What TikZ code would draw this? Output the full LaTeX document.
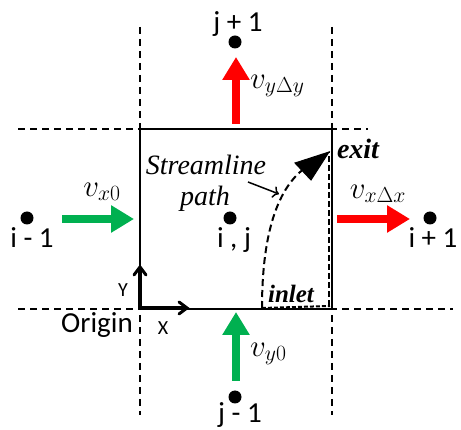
\RequirePackage{fix-cm}
\documentclass[tikz,border=0pt]{standalone}
\usepackage{fontspec}
\setmainfont{Carlito}
\newfontfamily\serifit{Liberation Serif}
\usetikzlibrary{arrows.meta}
\definecolor{offgreen}{RGB}{0,176,80}
\definecolor{offred}{RGB}{255,0,0}
\tikzset{
  gridline/.style={line width=1.2pt, dash pattern=on 7pt off 5pt},
  cellbox/.style={line width=1.4pt},
  dot/.style={circle, fill=black, inner sep=0pt, minimum size=13pt},
  lbl/.style={inner sep=0pt, anchor=base, font=\fontsize{29}{33}\selectfont},
  smalllbl/.style={inner sep=0pt, anchor=base, font=\fontsize{20}{22}\selectfont},
  mathlbl/.style={inner sep=0pt, font=\fontsize{31}{34}\selectfont},
  itlbl/.style={inner sep=0pt, font=\serifit\itshape\fontsize{28}{30}\selectfont},
  bilbl/.style={inner sep=0pt, font=\serifit\bfseries\itshape\fontsize{28}{30}\selectfont},
  inletlbl/.style={inner sep=0pt, font=\serifit\bfseries\itshape\fontsize{25}{28}\selectfont},
  fatarrow/.style={line width=8pt, -{Triangle[length=23pt,width=26pt]}},
  axisline/.style={line width=3.5pt, line cap=butt},
  axishead/.style={line width=3pt, line cap=round, line join=miter},
  stream/.style={line width=2pt, dash pattern=on 7pt off 4pt},
}
\begin{document}
\begin{tikzpicture}[x=1pt,y=-1pt]
\useasboundingbox (0,0) rectangle (461,430);
% grid lines
\draw[gridline] (140,27) -- (140,415);
\draw[gridline] (332,27) -- (332,415);
\draw[gridline] (18,129) -- (368,129);
\draw[gridline] (18,309) -- (453,309);
% cell box
\draw[cellbox] (140,129) rectangle (332,309);
% dots and labels
\node[dot] (jp) at (235,42) {};
\node[lbl] (jpl) at (238,32) {j + 1};
\node[dot] (im) at (27,218) {};
\node[lbl] (iml) at (32,248) {i - 1};
\node[dot] (ij) at (230,218) {};
\node[lbl] (ijl) at (234,248) {i , j};
\node[dot] (ip) at (430,218) {};
\node[lbl] (ipl) at (433,248) {i + 1};
\node[dot] (jm) at (235,397) {};
\node[lbl] (jml) at (240,423) {j - 1};
% fat arrows
\coordinate (a1s) at (236,124); \coordinate (a1e) at (236,57);
\draw[fatarrow, offred] (a1s) -- (a1e);
\coordinate (a2s) at (62,219); \coordinate (a2e) at (134,219);
\draw[fatarrow, offgreen] (a2s) -- (a2e);
\coordinate (a3s) at (337,219); \coordinate (a3e) at (410,219);
\draw[fatarrow, offred] (a3s) -- (a3e);
\coordinate (a4s) at (236,381); \coordinate (a4e) at (236,312);
\draw[fatarrow, offgreen] (a4s) -- (a4e);
% velocity labels
\node[mathlbl, anchor=west] (vy1) at (250,86) {$v_{y\Delta y}$};
\node[mathlbl] (vx0) at (102,192) {$v_{x0}$};
\node[mathlbl] (vx1) at (378,194) {$v_{x\Delta x}$};
\node[mathlbl, anchor=west] (vy0) at (250,354) {$v_{y0}$};
% axes
\coordinate (org) at (140,308);
\coordinate (yax) at (140,267);
\coordinate (xax) at (187,308);
\draw[axisline] ([yshift=-1.75pt]org) -- (yax);
\draw[axisline] ([xshift=-1.75pt]org) -- (xax);
\draw[axishead] ([xshift=-6pt,yshift=-8pt]yax) -- (yax) -- ([xshift=6pt,yshift=-8pt]yax);
\draw[axishead] ([xshift=-8pt,yshift=-6pt]xax) -- (xax) -- ([xshift=-8pt,yshift=6pt]xax);
\node[smalllbl] (yl) at (123,297) {Y};
\node[smalllbl] (xl) at (163,335) {X};
\node[lbl] (ol) at (97,333) {Origin};
% streamline
\coordinate (sin) at (262,308);
\coordinate (sout) at (329,152);
\draw[stream] (sin) .. controls (262,240) and (275,190) .. (305,168);
\draw[line width=1pt, fill=black] (329,152) -- (295,163) -- (311,180) -- cycle;
\draw[line width=2pt, dash pattern=on 4pt off 2pt] (sin) -- (330,306);
\draw[line width=1.4pt, dash pattern=on 6pt off 3pt] (329,306) -- (sout);
% text labels
\node[itlbl] (sl) at (206,165) {Streamline};
\node[itlbl] (pl) at (205,199) {path};
\node[bilbl] (ex) at (358,149) {exit};
\node[inletlbl] (in) at (291,294) {inlet};
\coordinate (ptr) at (279,194);
\draw[line width=1.5pt, -{To[length=6pt,width=12pt]}] (248,182) -- (ptr);
\end{tikzpicture}
\end{document}
